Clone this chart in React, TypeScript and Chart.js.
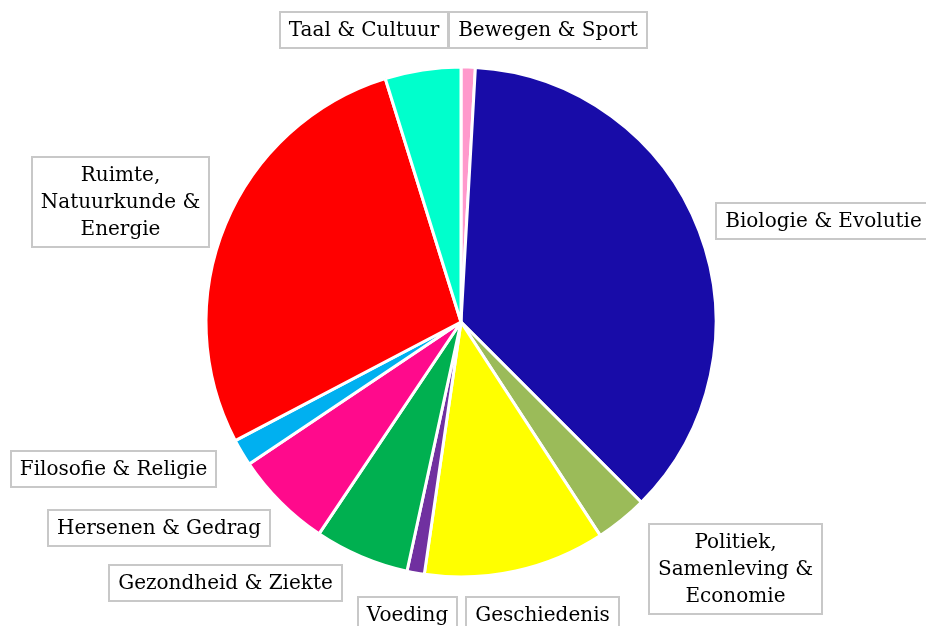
import React, { useEffect, useRef } from "react";
import { Chart, registerables } from "chart.js";

Chart.register(...registerables);

const categories: string[][] = [
  ["Bewegen & Sport"],
  ["Biologie & Evolutie"],
  ["Politiek,", "Samenleving &", "Economie"],
  ["Geschiedenis"],
  ["Voeding"],
  ["Gezondheid & Ziekte"],
  ["Hersenen & Gedrag"],
  ["Filosofie & Religie"],
  ["Ruimte,", "Natuurkunde &", "Energie"],
  ["Taal & Cultuur"],
];

const values: number[] = [0.9, 36.6, 3.3, 11.5, 1.1, 6.0, 6.2, 1.7, 27.9, 4.8];

const colors: string[] = [
  "#FF99CC",
  "#180CA8",
  "#9BBB59",
  "#FFFF00",
  "#7030A0",
  "#00B050",
  "#FF0A8C",
  "#00B0F0",
  "#FF0000",
  "#00FFCC",
];

// label box nudges (layout only), relative to each slice's outer mid-point
const labelNudges: [number, number][] = [
  [80, -37],
  [124.5, -10.5],
  [114, 49],
  [26.5, 44],
  [-8.5, 42],
  [-136, 26.5],
  [-122, 25.7],
  [-128, 17],
  [-105, -22],
  [-58.5, -40],
];

const FONT = '20px "DejaVu Serif"';
const LINE_H = 27;
const PAD_X = 9;
const PAD_Y = 4.5;

const labelPlugin = {
  id: "boxLabels",
  afterDraw(chart: any) {
    const ctx = chart.ctx as CanvasRenderingContext2D;
    const meta = chart.getDatasetMeta(0);
    ctx.save();
    ctx.font = FONT;
    ctx.textAlign = "center";
    ctx.textBaseline = "middle";
    meta.data.forEach((arc: any, i: number) => {
      const { x, y, startAngle, endAngle, outerRadius } = arc.getProps(
        ["x", "y", "startAngle", "endAngle", "outerRadius"],
        true
      );
      const mid = (startAngle + endAngle) / 2;
      const ax = x + Math.cos(mid) * outerRadius;
      const ay = y + Math.sin(mid) * outerRadius;
      const cx = ax + labelNudges[i][0];
      const cy = ay + labelNudges[i][1];
      const lines = categories[i];
      const w = Math.round(Math.max(...lines.map((l) => ctx.measureText(l).width)) + PAD_X * 2);
      const h = lines.length * LINE_H + PAD_Y * 2;
      const bx = Math.round(cx - w / 2);
      const by = Math.round(cy - h / 2);
      ctx.fillStyle = "#FFFFFF";
      ctx.fillRect(bx, by, w, h);
      ctx.strokeStyle = "#C8C8C8";
      ctx.lineWidth = 2;
      ctx.strokeRect(bx, by, w, h);
      ctx.fillStyle = "#000000";
      lines.forEach((l, k) => {
        ctx.fillText(l, bx + w / 2, by + PAD_Y + LINE_H * k + LINE_H / 2 + 1);
      });
    });
    ctx.restore();
  },
};

export default function App() {
  const ref = useRef<HTMLCanvasElement | null>(null);
  useEffect(() => {
    if (!ref.current) return;
    const chart = new Chart(ref.current, {
      type: "pie",
      data: {
        labels: categories.map((c) => c.join(" ")),
        datasets: [
          {
            data: values,
            backgroundColor: colors,
            borderColor: "#FFFFFF",
            borderWidth: 3,
          },
        ],
      },
      options: {
        responsive: false,
        animation: false,
        radius: 255,
        layout: { padding: { left: 0, right: 4, top: 18, bottom: 0 } },
        plugins: {
          legend: { display: false },
          tooltip: { enabled: false },
        },
      } as any,
      plugins: [labelPlugin],
    });
    return () => chart.destroy();
  }, []);
  return (
    <div style={{ position: "fixed", left: 0, top: 0, width: 926, height: 626, overflow: "hidden", background: "#fff" }}>
      <canvas ref={ref} width={926} height={626} />
    </div>
  );
}
